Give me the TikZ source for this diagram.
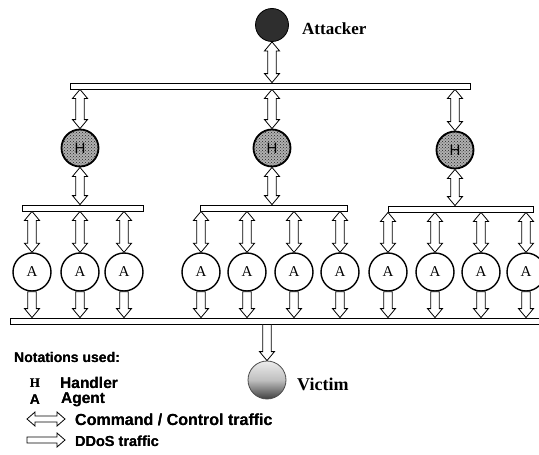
\documentclass[tikz,border=0pt]{standalone}
\usepackage{fontspec}
\usepackage[outline]{contour}
\setmainfont{Liberation Serif}
\newfontfamily\labelsans{Liberation Sans}
\newfontfamily\heavysans{Liberation Sans Bold}
\usetikzlibrary{calc,patterns}
\contourlength{0.35pt}
% heavier key lettering
\newcommand{\heavy}[1]{\contour{black}{#1}}

\tikzset{
  % thin two-line bus bar
  bus/.style={draw, line width=0.8pt, fill=white, rectangle, inner sep=0pt, minimum height=6},
  attacker/.style={circle, draw=black, fill=black!82, line width=0.8pt, minimum size=33, inner sep=0pt},
  handler/.style={circle, draw=black, line width=1.8pt, minimum size=37, inner sep=0pt,
    preaction={fill=gray!62}, pattern=crosshatch dots, pattern color=black!85,
    font=\labelsans\fontsize{15}{15}\selectfont, text=black},
  agent/.style={circle, draw=black, line width=1.4pt, fill=white, minimum size=38, inner sep=0pt,
    font=\fontsize{15}{15}\selectfont},
  victim/.style={circle, draw=black!70, line width=0.8pt, minimum size=38, inner sep=0pt,
    top color=gray!15, bottom color=black!75, middle color=gray!50},
  bigname/.style={anchor=west, inner sep=0pt, font=\bfseries\fontsize{17}{17}\selectfont},
  legend/.style={anchor=west, inner sep=0pt, font=\heavysans\fontsize{15.5}{16}\selectfont},
  hollow/.style={draw=black, line width=0.8pt, fill=white, line join=miter},
  % vertical command/control arrow, heads at both ends
  ccarrow/.style={hollow, to path={let \p1=(\tikztostart), \p2=(\tikztotarget) in
    (\x1,\y1) -- (\x1+7.5pt,\y1-9pt) -- (\x1+4.3pt,\y1-9pt) -- (\x1+4.3pt,\y2+9pt)
    -- (\x1+7.5pt,\y2+9pt) -- (\x1,\y2) -- (\x1-7.5pt,\y2+9pt) -- (\x1-4.3pt,\y2+9pt)
    -- (\x1-4.3pt,\y1-9pt) -- (\x1-7.5pt,\y1-9pt) -- cycle}},
  % vertical attack arrow, head at the lower end
  ddarrow/.style={hollow, to path={let \p1=(\tikztostart), \p2=(\tikztotarget) in
    (\x1-4.3pt,\y1) -- (\x1+4.3pt,\y1) -- (\x1+4.3pt,\y2+9pt) -- (\x1+7.5pt,\y2+9pt)
    -- (\x1,\y2) -- (\x1-7.5pt,\y2+9pt) -- (\x1-4.3pt,\y2+9pt) -- cycle}},
  % horizontal arrows of the key
  keycc/.style={hollow, to path={let \p1=(\tikztostart), \p2=(\tikztotarget) in
    (\x1,\y1) -- (\x1+8pt,\y1+7pt) -- (\x1+8pt,\y1+3pt) -- (\x2-8pt,\y1+3pt)
    -- (\x2-8pt,\y1+7pt) -- (\x2,\y1) -- (\x2-8pt,\y1-7pt) -- (\x2-8pt,\y1-3pt)
    -- (\x1+8pt,\y1-3pt) -- (\x1+8pt,\y1-7pt) -- cycle}},
  keydd/.style={hollow, to path={let \p1=(\tikztostart), \p2=(\tikztotarget) in
    (\x1,\y1+3pt) -- (\x2-8pt,\y1+3pt) -- (\x2-8pt,\y1+7pt) -- (\x2,\y1)
    -- (\x2-8pt,\y1-7pt) -- (\x2-8pt,\y1-3pt) -- (\x1,\y1-3pt) -- cycle}},
}

\begin{document}
\begin{tikzpicture}[x=1pt, y=-1pt]
\fill[white] (0,0) rectangle (539,455);
\clip (0,0) rectangle (539,455);

% attacker and top bus
\node[attacker] (att) at (272,25) {};
\node[bigname] (attlbl) at (302,29) {Attacker};
\node[bus, minimum width=400] (busT) at (270,86) {};

% handlers
\node[handler] (H1) at (80,148) {H};
\node[handler] (H2) at (272,148) {H};
\node[handler] (H3) at (455,150) {H};

% handler buses
\node[bus, minimum width=121] (busL) at (82.5,208) {};
\node[bus, minimum width=147] (busM) at (273.5,208) {};
\node[bus, minimum width=145] (busR) at (460.5,209) {};

% agents
\foreach \k/\xa in {1/32, 2/80, 3/124, 4/201, 5/247, 6/294, 7/340, 8/388, 9/435, 10/481, 11/526}
  \node[agent] (A\k) at (\xa,272) {A};

% bottom bus and victim
\node[bus, minimum width=540] (busB) at (280,321) {};
\node[victim] (vic) at (267,380) {};
\node[bigname, font=\bfseries\fontsize{18}{18}\selectfont] (viclbl) at (297,384) {Victim};

% command / control links
\draw[ccarrow] (att.south) to (att.south |- busT.north);
\foreach \h in {H1,H2,H3}
  \draw[ccarrow] (busT.south -| \h.north) to (\h.north);
\draw[ccarrow] (H1.south) to (H1.south |- busL.north);
\draw[ccarrow] (H2.south) to (H2.south |- busM.north);
\draw[ccarrow] (H3.south) to (H3.south |- busR.north);
\foreach \a in {A1,A2,A3}
  \draw[ccarrow] (busL.south -| \a.north) to (\a.north);
\foreach \a in {A4,A5,A6,A7}
  \draw[ccarrow] (busM.south -| \a.north) to (\a.north);
\foreach \a in {A8,A9,A10,A11}
  \draw[ccarrow] (busR.south -| \a.north) to (\a.north);

% attack traffic
\foreach \k in {1,...,11}
  \draw[ddarrow] (A\k.south) to (A\k.south |- busB.north);
\draw[ddarrow] (busB.south -| vic.north) to (vic.north);

% key
\node[legend, font=\heavysans\fontsize{14}{15}\selectfont] (keyttl) at (14,357) {\heavy{Notations used:}};
\node[inner sep=0pt, font=\bfseries\fontsize{13}{13}\selectfont] (keyH) at (35,383) {\heavy{H}};
\node[legend] (keyHt) at (60,383) {\heavy{Handler}};
\node[inner sep=0pt, font=\heavysans\fontsize{14}{14}\selectfont] (keyA) at (35,400) {\heavy{A}};
\node[legend] (keyAt) at (61,400) {\heavy{Agent}};
\coordinate (ccL) at (27,419);
\coordinate (ccR) at (65,419);
\draw[keycc] (ccL) to (ccR);
\node[legend, font=\heavysans\fontsize{16}{16}\selectfont] (keycct) at (75,420) {\heavy{Command / Control traffic}};
\coordinate (ddL) at (27,440);
\coordinate (ddR) at (65,440);
\draw[keydd] (ddL) to (ddR);
\node[legend, font=\heavysans\fontsize{14.5}{15}\selectfont] (keyddt) at (75,441) {\heavy{DDoS traffic}};
\end{tikzpicture}
\end{document}
